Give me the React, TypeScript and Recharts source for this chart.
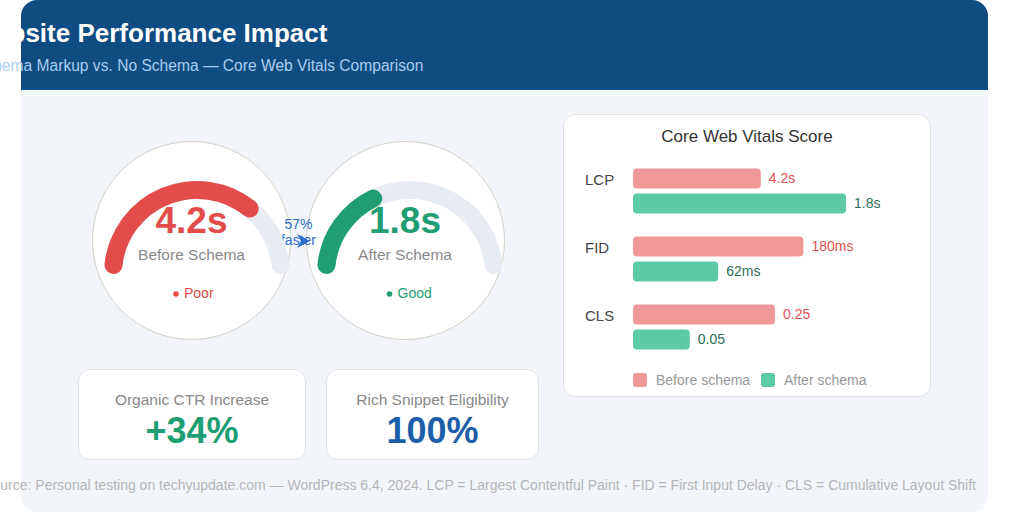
import { BarChart, Bar, XAxis, YAxis, LabelList, PieChart, Pie, Cell } from 'recharts'

const FONT = '"Liberation Sans", Arial, Helvetica, sans-serif'

// core web vitals bars (relative score, 0-100)
const metrics       = ['LCP', 'FID', 'CLS']
const beforeScore   = [45, 60, 50]
const afterScore    = [75, 30, 20]
const beforeLabels  = ['4.2s', '180ms', '0.25']
const afterLabels   = ['1.8s', '62ms', '0.05']

// gauges
const gaugeNames   = ['Before Schema', 'After Schema']
const gaugeValues  = ['4.2s', '1.8s']
const gaugeFill    = [75, 39]
const gaugeStatus  = ['Poor', 'Good']
const gaugeColors  = ['#e24c4b', '#1f9e74']

// stat cards
const statLabels = ['Organic CTR Increase', 'Rich Snippet Eligibility']
const statValues = ['+34%', '100%']
const statColors = ['#1f9e74', '#1c5fa8']

const BEFORE = '#f09797'
const AFTER  = '#5ccaa6'

const barData = metrics.map((m, i) => ({
  metric: m,
  before: beforeScore[i],
  after: afterScore[i],
  beforeLabel: beforeLabels[i],
  afterLabel: afterLabels[i],
}))

const abs = (left: number, top: number, width: number, height: number) =>
  ({ position: 'absolute' as const, left, top, width, height })

function Gauge({ idx, left }: { idx: number; left: number }) {
  const fill = gaugeFill[idx]
  return (
    <div style={abs(left, 169, 200, 200)}>
      <PieChart width={200} height={200}>
        <Pie data={[{ v: 1 }]} dataKey="v" cx={100} cy={100} innerRadius={75} outerRadius={93}
          startAngle={180} endAngle={0} cornerRadius={9} stroke="none" fill="#e7ecf3" isAnimationActive={false} />
        <Pie data={[{ v: fill }, { v: 100 - fill }]} dataKey="v" cx={100} cy={100} innerRadius={75} outerRadius={93}
          startAngle={180} endAngle={0} cornerRadius={9} stroke="none" isAnimationActive={false}>
          <Cell fill={gaugeColors[idx]} />
          <Cell fill="transparent" />
        </Pie>
      </PieChart>
    </div>
  )
}

const CatTick = ({ y, payload }: any) => (
  <text x={22} y={y - 5.5} fontSize={15} fill="#444" fontFamily={FONT}>{payload.value}</text>
)

export default function App() {
  const circle = (cx: number) => ({
    ...abs(cx - 99.5, 141, 199, 199), borderRadius: '50%', background: '#fff',
    border: '1.5px solid #d6d0c7', boxSizing: 'border-box' as const,
  })
  const card = (l: number, t: number, w: number, h: number) => ({
    ...abs(l, t, w, h), background: '#fff', border: '1px solid #e3e3e3',
    borderRadius: 12, boxSizing: 'border-box' as const,
  })
  const gx = [191.5, 405]
  const sx = [192, 432.5]

  return (
    <div style={{ ...abs(0, 0, 1024, 526), overflow: 'hidden', background: '#fff', fontFamily: FONT }}>
      <div style={{ ...abs(21, 0, 967, 512), background: '#f2f6fb', borderRadius: 16 }} />
      <div style={{ ...abs(21, 0, 967, 90), background: '#0f4c81', borderRadius: '16px 16px 0 0' }} />

      {gx.map(x => <div key={x} style={circle(x)} />)}
      <div style={card(78, 369, 228, 91)} />
      <div style={card(326, 369, 213, 91)} />
      <div style={card(563, 114, 368, 283)} />

      <svg width={1024} height={526} style={{ position: 'absolute', left: 0, top: 0 }} fontFamily={FONT}>
        <text x={-29} y={42} fontSize={26} fontWeight="bold" fill="#fff">Website Performance Impact</text>
        <text x={-25} y={71} fontSize={15.6} fill="#a9cdf2">Schema Markup vs. No Schema — Core Web Vitals Comparison</text>

        {gx.map((x, i) => (
          <g key={i}>
            <text x={x} y={233} fontSize={37} fontWeight="bold" fill={gaugeColors[i]} textAnchor="middle">{gaugeValues[i]}</text>
            <text x={x} y={260} fontSize={15.5} fill="#888" textAnchor="middle">{gaugeNames[i]}</text>
            <circle cx={x - 15.5} cy={294} r={2.8} fill={gaugeColors[i]} />
            <text x={x - 7.5} y={298} fontSize={14} fill={gaugeColors[i]}>{gaugeStatus[i]}</text>
          </g>
        ))}

        <text x={298.5} y={229} fontSize={14} fill="#2f6ec6" textAnchor="middle">57%</text>
        <text x={298.5} y={245} fontSize={14} fill="#2f6ec6" textAnchor="middle">faster</text>
        <path d="M297,234 L310,241 L297,248 L301,241 Z" fill="#2f6ec6" />

        {sx.map((x, i) => (
          <g key={i}>
            <text x={x} y={405} fontSize={15.5} fill="#888" textAnchor="middle">{statLabels[i]}</text>
            <text x={x} y={443} fontSize={36} fontWeight="bold" fill={statColors[i]} textAnchor="middle">{statValues[i]}</text>
          </g>
        ))}

        <text x={747} y={142} fontSize={17} fill="#333" textAnchor="middle">Core Web Vitals Score</text>
        <rect x={633} y={373} width={14} height={14} rx={3} fill={BEFORE} />
        <text x={656} y={385} fontSize={14} fill="#999">Before schema</text>
        <rect x={761} y={373} width={14} height={14} rx={3} fill={AFTER} />
        <text x={784} y={385} fontSize={14} fill="#999">After schema</text>

        <text x={976} y={490} fontSize={14} fill="#b5b5b5" textAnchor="end">
          Source: Personal testing on techyupdate.com — WordPress 6.4, 2024. LCP = Largest Contentful Paint · FID = First Input Delay · CLS = Cumulative Layout Shift
        </text>
      </svg>

      <Gauge idx={0} left={91.5} />
      <Gauge idx={1} left={305} />

      <div style={abs(563, 150, 368, 220)}>
        <BarChart width={368} height={220} data={barData} layout="vertical"
          margin={{ top: 6.5, right: 14, bottom: 9.5, left: 0 }} barSize={20} barGap={5}>
          <XAxis type="number" domain={[0, 100]} hide />
          <YAxis type="category" dataKey="metric" width={70} axisLine={false} tickLine={false} tick={<CatTick />} />
          <Bar dataKey="before" fill={BEFORE} radius={4} isAnimationActive={false}>
            <LabelList dataKey="beforeLabel" position="right" offset={8} fill="#e35151" fontSize={14} fontFamily={FONT} />
          </Bar>
          <Bar dataKey="after" fill={AFTER} radius={4} isAnimationActive={false}>
            <LabelList dataKey="afterLabel" position="right" offset={8} fill="#2b6d59" fontSize={14} fontFamily={FONT} />
          </Bar>
        </BarChart>
      </div>
    </div>
  )
}
